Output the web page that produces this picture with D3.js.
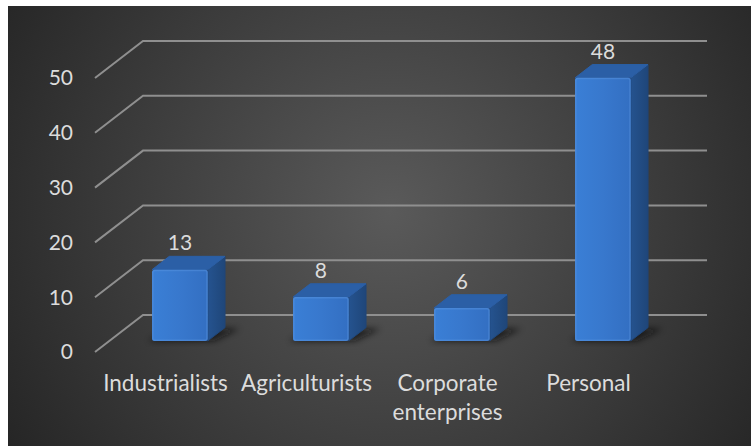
<!DOCTYPE html>
<html>
<head>
<meta charset="utf-8">
<script src="https://cdn.jsdelivr.net/npm/d3@7"></script>
<style>
  html, body { margin: 0; padding: 0; background: #ffffff; }
  svg { display: block; }
  text { font-family: Lato, "Open Sans", sans-serif; fill: #dcdcdc; }
</style>
</head>
<body>
<svg id="chart" width="751" height="446"></svg>
<script>
// Loan counts by borrower type
const categories = ["Industrialists", "Agriculturists", "Corporate enterprises", "Personal"];
const values = [13, 8, 6, 48];
const yTicks = [0, 10, 20, 30, 40, 50];

const W = 751, H = 446;
const svg = d3.select("#chart");

// Panel geometry (front-left floor corner and depth vector of the 3D box)
const origin = { x: 95, y: 352 };
const depth = { dx: 48, dy: -37 };
const plotW = 564, plotH = 274;

const x = d3.scaleBand().domain(categories).range([0, plotW])
  .paddingInner(0.605).paddingOuter(0.3025);
const y = d3.scaleLinear().domain([0, 50]).range([0, plotH]);

// project (x along categories, value height, depth fraction 0..1) to screen
const P = (xv, h, d) => [origin.x + xv + d * depth.dx, origin.y - h + d * depth.dy];

const defs = svg.append("defs");
const bg = defs.append("radialGradient").attr("id", "bg")
  .attr("gradientUnits", "userSpaceOnUse").attr("cx", 390).attr("cy", 210).attr("r", 470);
bg.append("stop").attr("offset", "0").attr("stop-color", "#5a5a5a");
bg.append("stop").attr("offset", "0.55").attr("stop-color", "#3c3c3c");
bg.append("stop").attr("offset", "1").attr("stop-color", "#232323");

const front = defs.append("linearGradient").attr("id", "front").attr("x1", 0).attr("x2", 1).attr("y1", 0).attr("y2", 0);
front.append("stop").attr("offset", "0").attr("stop-color", "#3a7fd6");
front.append("stop").attr("offset", "0.5").attr("stop-color", "#3878cd");
front.append("stop").attr("offset", "1").attr("stop-color", "#336fc2");

const side = defs.append("linearGradient").attr("id", "side").attr("x1", 0).attr("x2", 1).attr("y1", 0).attr("y2", 0);
side.append("stop").attr("offset", "0").attr("stop-color", "#25538f");
side.append("stop").attr("offset", "1").attr("stop-color", "#1f4679");

defs.append("filter").attr("id", "soft").attr("x", "-50%").attr("y", "-50%").attr("width", "200%").attr("height", "200%")
  .append("feGaussianBlur").attr("stdDeviation", 3);

// Chart area background
svg.append("rect").attr("x", 8).attr("y", 6).attr("width", W - 8).attr("height", H - 6).attr("fill", "url(#bg)");

// Gridlines: diagonal along the left wall, then horizontal along the back wall
const grid = svg.append("g");
yTicks.forEach(t => {
  const a = P(0, y(t), 0), b = P(0, y(t), 1), c = P(plotW, y(t), 1);
  grid.append("polyline")
    .attr("points", [a, b, c].map(p => p.join(",")).join(" "))
    .attr("fill", "none").attr("stroke", "#8f8f8f").attr("stroke-width", 2);
});

// Y tick labels
svg.append("g").selectAll("text").data(yTicks).join("text")
  .attr("x", 73).attr("y", t => origin.y - y(t))
  .attr("dy", "0.35em").attr("text-anchor", "end")
  .attr("font-size", 21).text(d => d);

const d1 = 0.3, d2 = 0.66;
const pts = arr => arr.map(p => p.join(",")).join(" ");

// Floor shadows under the bars
svg.append("g").selectAll("polygon").data(categories).join("polygon")
  .attr("points", c => {
    const x0 = x(c) - 4, x1 = x(c) + x.bandwidth() + 6;
    return pts([P(x0, 0, d1), P(x1, 0, d1), P(x1 + 6, -3, d2 + 0.05), P(x0 + 4, -3, d2 + 0.05)]);
  })
  .attr("fill", "#101010").attr("opacity", 0.7).attr("filter", "url(#soft)");

// Bars: side, top and front faces
const bars = svg.append("g").selectAll("g").data(categories).join("g");
bars.each(function (c, i) {
  const g = d3.select(this);
  const h = y(values[i]);
  const x0 = x(c), x1 = x(c) + x.bandwidth();
  g.append("polygon")
    .attr("points", pts([P(x1, 0, d1), P(x1, h, d1), P(x1, h, d2), P(x1, 0, d2)]))
    .attr("fill", "url(#side)").attr("stroke", "#1f4679").attr("stroke-width", 1).attr("stroke-linejoin", "round");
  g.append("polygon")
    .attr("points", pts([P(x0, h, d1), P(x1, h, d1), P(x1, h, d2), P(x0, h, d2)]))
    .attr("fill", "#2b5fa6").attr("stroke", "#2b5fa6").attr("stroke-width", 1).attr("stroke-linejoin", "round");
  const [fx, fy] = P(x0, h, d1);
  g.append("rect")
    .attr("x", fx).attr("y", fy).attr("width", x.bandwidth()).attr("height", h)
    .attr("rx", 2.5).attr("fill", "url(#front)");
  g.append("rect")
    .attr("x", fx + 0.75).attr("y", fy + 0.75).attr("width", x.bandwidth() - 1.5).attr("height", h - 1.5)
    .attr("rx", 2).attr("fill", "none").attr("stroke", "#5a97e3").attr("stroke-opacity", 0.45).attr("stroke-width", 1.5);
});

// Value labels above each bar
svg.append("g").selectAll("text").data(categories).join("text")
  .attr("x", c => P(x(c) + x.bandwidth() / 2, 0, d1)[0])
  .attr("y", (c, i) => P(0, y(values[i]), d2)[1] - 6)
  .attr("text-anchor", "middle").attr("font-size", 21)
  .text((c, i) => values[i]);

// Category labels along the front edge, wrapped to the band width
const catG = svg.append("g");
categories.forEach(c => {
  const cx = P(x(c) + x.bandwidth() / 2, 0, 0)[0];
  const t = catG.append("text").attr("x", cx).attr("y", 391)
    .attr("text-anchor", "middle").attr("font-size", 22.5);
  t.text(c);
  if (t.node().getComputedTextLength() > x.step() - 4) {
    t.text(null);
    c.split(" ").forEach((w, k) => {
      t.append("tspan").attr("x", cx).attr("y", 391 + k * 29).text(w);
    });
  }
});
</script>
</body>
</html>
